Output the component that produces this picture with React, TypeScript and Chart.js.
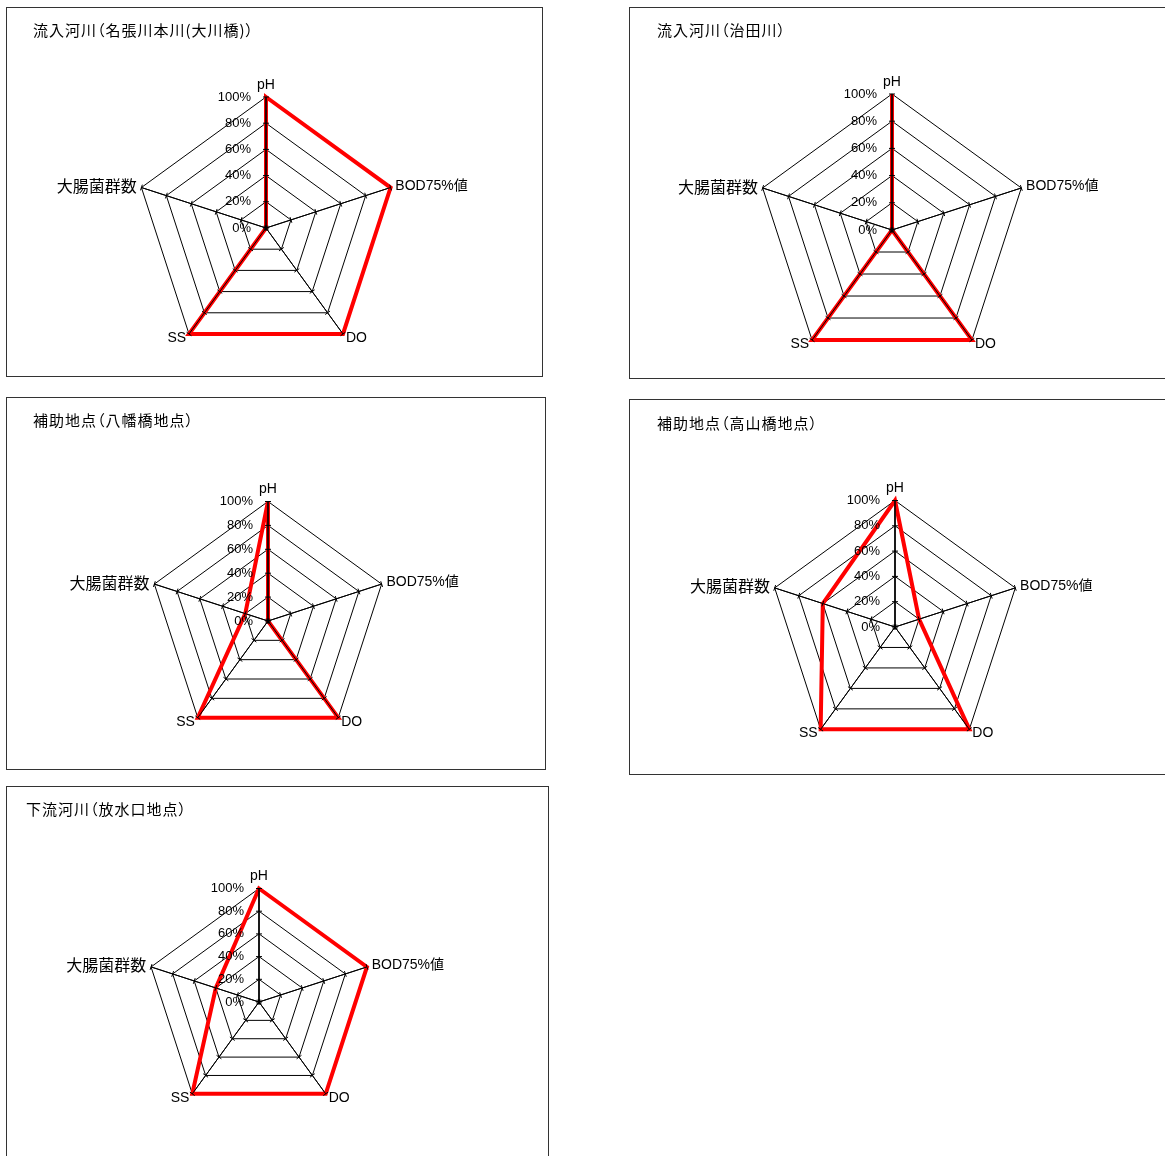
import React, { useEffect, useRef } from "react";
import { Chart, registerables } from "chart.js";

Chart.register(...registerables);

// ---- data ----
const axisLabels = ["pH", "BOD75%値", "DO", "SS", "大腸菌群数"];
const tickMin = 0;
const tickMax = 100;
const tickStep = 20;

const titleOkawabashi = "流入河川（名張川本川(大川橋)）";
const titleHarutagawa = "流入河川（治田川）";
const titleYawatabashi = "補助地点（八幡橋地点）";
const titleTakayamabashi = "補助地点（高山橋地点）";
const titleHousuikou = "下流河川（放水口地点）";

const valuesOkawabashi = [100, 100, 100, 100, 0];
const valuesHarutagawa = [100, 0, 100, 100, 0];
const valuesYawatabashi = [100, 0, 100, 100, 20];
const valuesTakayamabashi = [100, 20, 100, 100, 60];
const valuesHousuikou = [100, 100, 100, 100, 40];

// ---- layout (page coordinates) ----
type Layout = {
  left: number;
  top: number;
  width: number;
  height: number;
  cx: number;
  cy: number;
  r: number;
  titleX: number;
  titleY: number;
};

const layouts: Layout[] = [
  { left: 6, top: 7, width: 537, height: 370, cx: 266, cy: 228, r: 131, titleX: 33, titleY: 30 },
  { left: 629, top: 7, width: 545, height: 372, cx: 892, cy: 230, r: 136, titleX: 657, titleY: 30 },
  { left: 6, top: 397, width: 540, height: 373, cx: 268, cy: 621, r: 119.5, titleX: 33, titleY: 420 },
  { left: 629, top: 399, width: 545, height: 376, cx: 895, cy: 627, r: 126.5, titleX: 657, titleY: 423 },
  { left: 6, top: 786, width: 543, height: 380, cx: 259, cy: 1002, r: 113.5, titleX: 26, titleY: 809 },
];

const panels = [
  { title: titleOkawabashi, values: valuesOkawabashi },
  { title: titleHarutagawa, values: valuesHarutagawa },
  { title: titleYawatabashi, values: valuesYawatabashi },
  { title: titleTakayamabashi, values: valuesTakayamabashi },
  { title: titleHousuikou, values: valuesHousuikou },
];

const LATIN_FONT = '"Liberation Sans", "Noto Sans CJK JP", sans-serif';
const CJK_FONT = '"Noto Sans CJK JP", sans-serif';

const overlayPlugin = {
  id: "excelRadarOverlay",
  afterDatasetsDraw(chart: any) {
    const s = chart.scales.r;
    const ctx = chart.ctx;
    const n = chart.data.labels.length;
    ctx.save();
    ctx.strokeStyle = "#000";
    for (let i = 0; i < n; i++) {
      const p = s.getPointPosition(i, s.drawingArea);
      ctx.lineWidth = i === 0 ? 1.6 : 1;
      ctx.beginPath();
      ctx.moveTo(s.xCenter, s.yCenter);
      ctx.lineTo(p.x, p.y);
      ctx.stroke();
      ctx.lineWidth = 1;
      s.ticks.forEach((t: any) => {
        const d = s.getDistanceFromCenterForValue(t.value);
        const q = s.getPointPosition(i, d);
        const a = q.angle;
        const px = -Math.sin(a) * 3;
        const py = Math.cos(a) * 3;
        ctx.beginPath();
        ctx.moveTo(q.x - px, q.y - py);
        ctx.lineTo(q.x + px, q.y + py);
        ctx.stroke();
      });
    }
    ctx.restore();
  },
  afterDraw(chart: any) {
    const s = chart.scales.r;
    const ctx = chart.ctx;
    const labels: string[] = chart.data.labels;
    ctx.save();
    ctx.fillStyle = "#000";
    // point labels
    labels.forEach((lab, i) => {
      const p = s.getPointPosition(i, s.drawingArea + 5);
      const cjkOnly = /^[\u3000-\u9fff]+$/.test(lab);
      ctx.font = cjkOnly ? `16px ${CJK_FONT}` : `14px ${LATIN_FONT}`;
      const dx = p.x - s.xCenter;
      if (Math.abs(dx) < 1) {
        ctx.textAlign = "center";
        ctx.textBaseline = "bottom";
      } else {
        ctx.textAlign = dx > 0 ? "left" : "right";
        ctx.textBaseline = "middle";
      }
      ctx.fillText(lab, p.x, p.y);
    });
    // tick labels along the first axis
    ctx.font = `13px ${LATIN_FONT}`;
    ctx.textAlign = "right";
    ctx.textBaseline = "middle";
    s.ticks.forEach((t: any) => {
      const d = s.getDistanceFromCenterForValue(t.value);
      ctx.fillText(t.label, s.xCenter - 15, s.yCenter - d);
    });
    ctx.restore();
  },
};

function RadarPanel({ title, values, layout }: { title: string; values: number[]; layout: Layout }) {
  const canvasRef = useRef<HTMLCanvasElement | null>(null);
  const w = layout.width - 2;
  const h = layout.height - 2;
  const cx = layout.cx - layout.left - 1;
  const cy = layout.cy - layout.top - 1;

  useEffect(() => {
    if (!canvasRef.current) return;
    const chart = new Chart(canvasRef.current, {
      type: "radar",
      data: {
        labels: axisLabels,
        datasets: [
          {
            data: values,
            borderColor: "#ff0000",
            backgroundColor: "rgba(0,0,0,0)",
            borderWidth: 4,
            pointRadius: 0,
            pointHoverRadius: 0,
            fill: false,
            tension: 0,
          },
        ],
      },
      options: {
        animation: false,
        responsive: false,
        maintainAspectRatio: false,
        devicePixelRatio: 1,
        events: [],
        layout: { padding: 0 },
        plugins: {
          legend: { display: false },
          tooltip: { enabled: false },
          title: { display: false },
        },
        scales: {
          r: {
            min: tickMin,
            max: tickMax,
            beginAtZero: true,
            ticks: {
              display: false,
              stepSize: tickStep,
              callback: (v: any) => `${v}%`,
            },
            pointLabels: { display: false },
            grid: { color: "#000", lineWidth: 1 },
            angleLines: { color: "#000", lineWidth: 1 },
            afterFit: (scale: any) => {
              scale.xCenter = cx;
              scale.yCenter = cy;
              scale.drawingArea = layout.r;
            },
          } as any,
        },
      },
      plugins: [overlayPlugin],
    });
    return () => chart.destroy();
  }, [values, layout]);

  return (
    <div
      style={{
        position: "absolute",
        left: layout.left,
        top: layout.top,
        width: layout.width,
        height: layout.height,
        boxSizing: "border-box",
        border: "1px solid #333",
        background: "#fff",
      }}
    >
      <canvas
        ref={canvasRef}
        width={w}
        height={h}
        style={{ position: "absolute", left: 0, top: 0, width: w, height: h }}
      />
      <div
        style={{
          position: "absolute",
          left: layout.titleX - layout.left - 1,
          top: layout.titleY - layout.top - 1 - 10,
          height: 20,
          lineHeight: "20px",
          fontFamily: CJK_FONT,
          fontSize: 15,
          letterSpacing: "1px",
          fontFeatureSettings: '"palt"',
          color: "#000",
          whiteSpace: "nowrap",
        }}
      >
        {title}
      </div>
    </div>
  );
}

export default function App() {
  return (
    <div
      style={{
        position: "absolute",
        left: 0,
        top: 0,
        width: 1165,
        height: 1156,
        overflow: "hidden",
        background: "#fff",
      }}
    >
      {panels.map((p, i) => (
        <RadarPanel key={i} title={p.title} values={p.values} layout={layouts[i]} />
      ))}
    </div>
  );
}
